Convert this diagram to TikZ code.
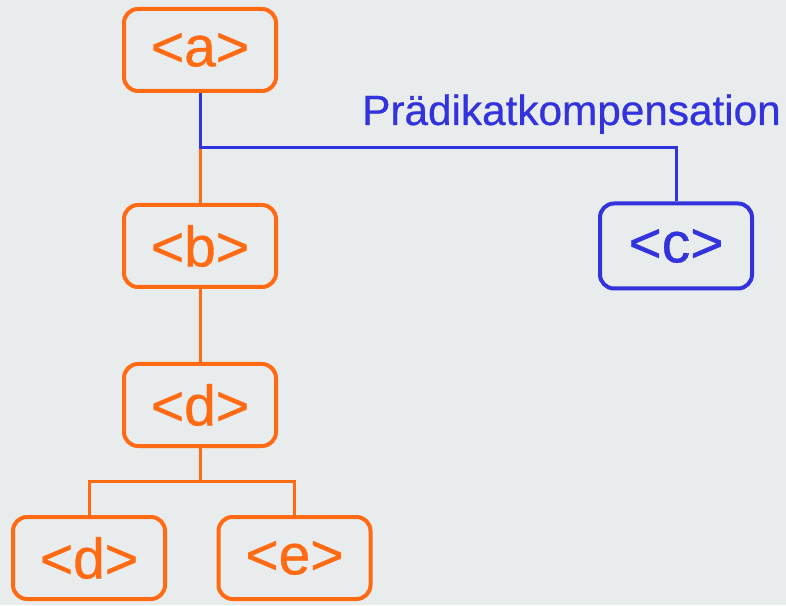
\documentclass[tikz,border=0pt]{standalone}
\usepackage{fontspec}
\setmainfont{Liberation Sans}
\newfontfamily\tagfont{Liberation Sans}[FakeBold=0.6]
\usepackage{xcolor}
\usepackage{tikz}
\usetikzlibrary{positioning}

\definecolor{treeorange}{RGB}{255,106,19}
\definecolor{compblue}{RGB}{51,51,221}
\definecolor{paper}{RGB}{233,236,237}

\begin{document}
\begin{tikzpicture}[x=1pt, y=1pt,
    tag/.style={draw=treeorange, text=treeorange, line width=4pt, rounded corners=14pt,
      minimum width=152pt, minimum height=82pt, font=\tagfont\fontsize{57}{62}\selectfont},
    comptag/.style={tag, draw=compblue, text=compblue, minimum height=85pt},
    edge/.style={draw=treeorange, line width=3pt},
    compedge/.style={draw=compblue, line width=3pt}]
                \fill[paper] (0,0) rectangle (786,605);
                \useasboundingbox (0,0) rectangle (786,605);

                \node[tag] (a) at (200,555) {<a>};
                \node[tag, below=110pt of a] (b) {<b>};
                \node[tag, below=73pt of b] (d) {<d>};
                \node[tag, below=67pt of d, xshift=-111pt] (dsub) {<d>};
                \node[tag, below=67pt of d, xshift=94.5pt] (e) {<e>};
                \node[comptag, right=320pt of b] (c) {<c>};

                % tree edges
                \draw[edge] (a) -- (b);
                \draw[edge] (b) -- (d);
                \coordinate[below=33pt of d.south] (dfork);
                \draw[edge] (d.south) -- (dfork) -| (dsub.north);
                \draw[edge] (dfork) -| (e.north);

                % compensation edge, drawn over the orange one
                \coordinate[below=55pt of a.south] (afork);
                \draw[compedge] (a.south) -- (afork) -| (c.north);
                \node[text=compblue, font=\tagfont\fontsize{42.3}{47}\selectfont, anchor=base] (comp) at (571.5,480) {Prädikatkompensation};
            \end{tikzpicture}
\end{document}
